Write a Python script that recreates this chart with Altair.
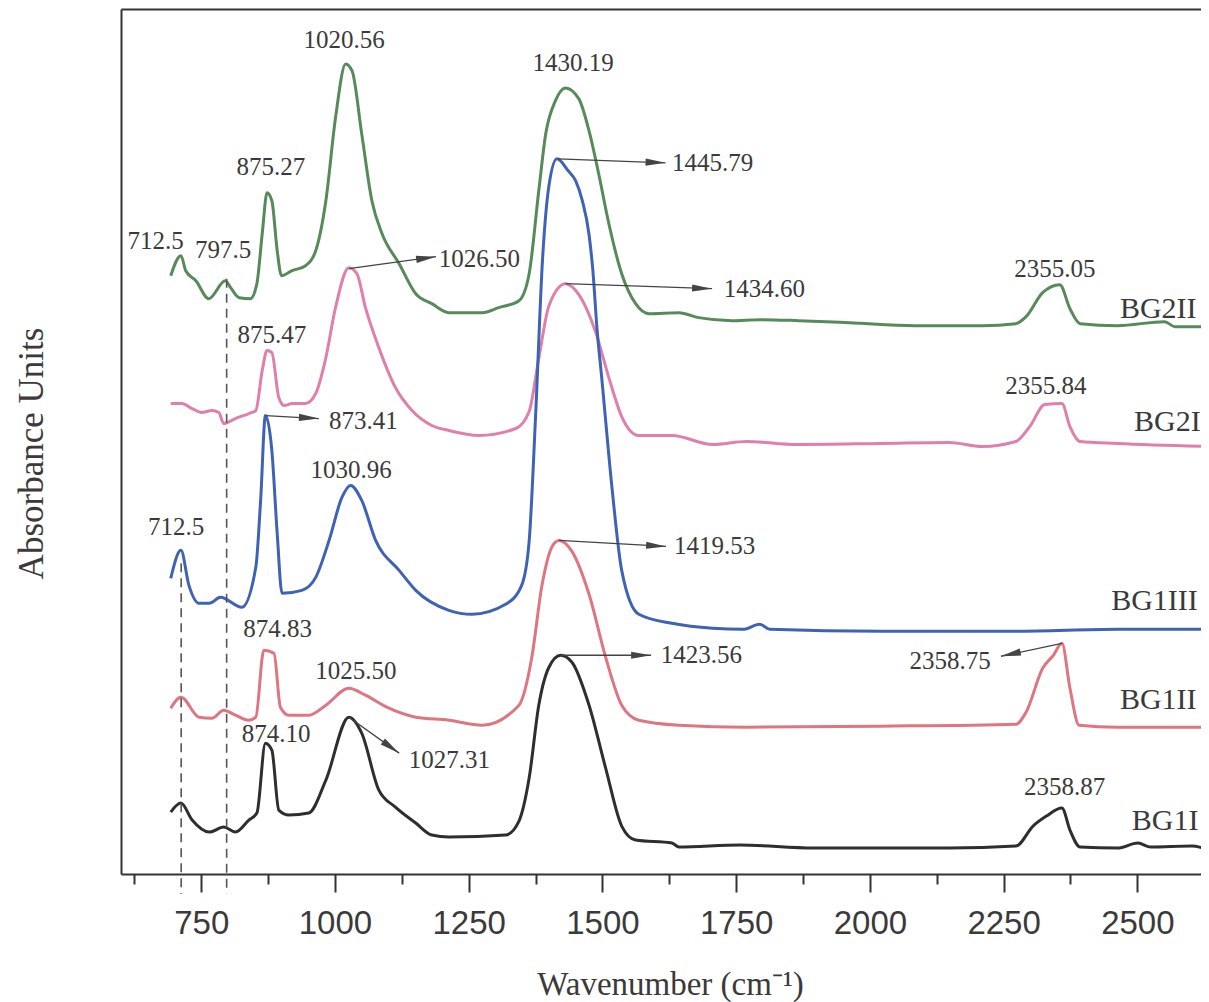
import math
import altair as alt
import pandas as pd

# ---------------- data ----------------
series_names = ["BG2II", "BG2I", "BG1III", "BG1II", "BG1I"]
series_colors = ["#578a5a", "#de7fae", "#3f63b4", "#de7580", "#2e2e2e"]

bg2ii_wn = [693, 712, 721, 740, 764, 795, 805, 821, 842, 854, 864, 873, 882, 892, 900, 920, 945, 964, 983,
            1001, 1020, 1032, 1050, 1069, 1088, 1120, 1151, 1181, 1213, 1275, 1306, 1344, 1363, 1381, 1394,
            1412, 1431, 1456, 1475, 1493, 1512, 1536, 1562, 1587, 1643, 1680, 1742, 1794, 1867, 1961, 2084,
            2210, 2273, 2292, 2323, 2355, 2374, 2393, 2463, 2551, 2570, 2630]
bg2ii_ab = [59.9, 61.9, 60.4, 59.4, 57.6, 59.4, 58.7, 57.7, 57.6, 59.1, 64.1, 68.2, 67.4, 62.4, 59.9, 60.4,
            60.9, 62.4, 67.4, 75.7, 81.1, 80.4, 74.1, 67.4, 64.1, 61.1, 58.1, 57.1, 56.2, 56.2, 56.7, 57.4,
            60.1, 68.4, 74.1, 77.4, 78.7, 77.6, 74.4, 70.1, 65.1, 60.1, 57.1, 56.1, 56.2, 55.7, 55.4, 55.5,
            55.4, 55.2, 54.9, 54.9, 55.1, 55.8, 58.2, 59.0, 56.6, 55.1, 54.9, 55.3, 54.8, 54.8]

bg2i_wn = [693, 714, 733, 751, 770, 783, 792, 814, 839, 852, 864, 873, 882, 895, 905, 920, 945, 964, 983,
           1001, 1026, 1041, 1057, 1082, 1113, 1144, 1181, 1213, 1269, 1338, 1363, 1381, 1400, 1431, 1456,
           1487, 1512, 1536, 1568, 1630, 1706, 1769, 1863, 2020, 2148, 2210, 2273, 2299, 2327, 2359, 2374,
           2393, 2463, 2630]
bg2i_ab = [47.1, 47.1, 46.6, 46.2, 46.4, 46.2, 45.1, 45.6, 46.1, 46.4, 50.4, 52.4, 52.2, 47.7, 46.9, 47.1,
           47.1, 48.1, 51.7, 56.7, 60.7, 60.1, 56.7, 52.7, 48.7, 46.4, 44.9, 44.4, 43.9, 44.6, 46.3, 51.6,
           56.9, 59.1, 58.0, 54.3, 49.7, 45.8, 43.9, 43.9, 43.0, 43.3, 43.0, 43.1, 43.2, 42.8, 43.3, 44.8,
           47.0, 47.1, 44.8, 43.3, 43.1, 42.8]

bg1iii_wn = [693, 712, 727, 746, 765, 786, 826, 852, 861, 870, 882, 892, 901, 938, 964, 989, 1013, 1029,
             1050, 1076, 1120, 1151, 1213, 1256, 1319, 1349, 1363, 1375, 1388, 1400, 1415, 1436, 1450, 1462,
             1475, 1482, 1490, 1499, 1518, 1536, 1568, 1630, 1706, 1763, 1794, 1813, 2020, 2273, 2463, 2630]
bg1iii_ab = [29.6, 32.4, 28.9, 27.1, 27.1, 27.7, 26.7, 30.7, 37.4, 45.9, 42.4, 34.1, 28.1, 28.4, 29.7, 33.4,
             37.7, 38.9, 37.4, 33.4, 30.4, 28.4, 26.4, 26.0, 27.0, 28.9, 33.3, 45.8, 61.5, 68.9, 71.6, 70.4,
             69.4, 67.5, 64.0, 60.5, 54.5, 49.5, 38.6, 30.4, 26.0, 25.1, 24.6, 24.5, 25.0, 24.5, 24.3, 24.3,
             24.5, 24.5]

bg1ii_wn = [693, 712, 746, 770, 792, 814, 839, 852, 867, 886, 898, 914, 951, 983, 1026, 1057, 1101, 1151,
            1213, 1275, 1344, 1368, 1387, 1406, 1419, 1443, 1475, 1506, 1536, 1568, 1643, 1769, 2020, 2273,
            2292, 2323, 2343, 2359, 2374, 2391, 2463, 2630]
bg1ii_ab = [16.6, 17.7, 15.7, 15.6, 16.4, 15.9, 15.4, 15.7, 22.4, 22.1, 16.7, 15.9, 15.9, 16.9, 18.6, 17.9,
            16.6, 15.7, 15.4, 14.9, 16.9, 21.7, 28.9, 32.8, 33.4, 32.3, 28.0, 21.7, 16.9, 15.4, 14.9, 14.7,
            14.8, 15.0, 16.2, 20.6, 21.9, 23.1, 18.6, 14.9, 14.7, 14.7]

bg1i_wn = [693, 712, 733, 765, 792, 814, 839, 854, 870, 882, 895, 914, 951, 983, 1026, 1050, 1082, 1113,
           1151, 1181, 1213, 1319, 1344, 1363, 1381, 1400, 1422, 1443, 1475, 1506, 1536, 1562, 1630, 1643,
           1757, 1895, 2148, 2273, 2305, 2330, 2359, 2374, 2393, 2463, 2501, 2525, 2602, 2630]
bg1i_ab = [6.2, 7.1, 5.4, 4.2, 4.7, 4.2, 5.4, 6.1, 13.1, 12.4, 6.4, 5.9, 6.1, 9.4, 15.7, 14.1, 8.4, 6.7,
           5.1, 3.9, 3.7, 3.9, 5.3, 9.6, 16.9, 20.7, 21.9, 21.2, 16.9, 10.6, 4.8, 3.4, 3.1, 2.7, 2.9, 2.6,
           2.6, 2.8, 4.8, 5.8, 6.6, 4.4, 2.7, 2.6, 3.1, 2.7, 2.8, 2.5]

# dashed reference lines
dash_wn = [712.5, 797.5]
dash_top = [31.1, 59.6]
dash_bottom = [-2.0, -2.0]

# arrows (from peak to label)
arrow_from_wn = [1026, 1417, 1431, 870.5, 1419, 1422, 1026, 2359]
arrow_from_ab = [60.6, 71.6, 59.1, 45.9, 33.4, 21.9, 15.7, 23.1]
arrow_to_wn = [1189, 1618, 1705, 970, 1619, 1591, 1120, 2245]
arrow_to_ab = [61.8, 71.2, 58.6, 45.6, 32.8, 21.9, 12.1, 21.8]

# peak labels
center_text = ["712.5", "797.5", "875.27", "1020.56", "1430.19", "2355.05", "875.47", "2355.84",
               "712.5", "1030.96", "874.83", "1025.50", "874.10", "2358.87"]
center_wn = [664.5, 791, 880, 1017, 1445, 2346, 882, 2329, 703, 1030, 893, 1039, 890, 2364]
center_ab = [63.4, 62.5, 70.8, 83.5, 81.2, 60.6, 54.0, 48.9, 34.7, 40.4, 24.5, 20.3, 14.0, 8.7]

left_text = ["1026.50", "1434.60", "1445.79", "873.41", "1419.53", "1423.56", "1027.31"]
left_wn = [1194, 1727, 1630, 989, 1634, 1609, 1138]
left_ab = [61.6, 58.6, 71.2, 45.4, 32.8, 21.9, 11.4]

right_text = ["2358.75"]
right_wn = [2226]
right_ab = [21.3]

name_wn = [2539, 2556, 2532, 2539, 2552]
name_ab = [56.6, 45.3, 27.3, 17.4, 5.3]

major_ticks = [750, 1000, 1250, 1500, 1750, 2000, 2250, 2500]
minor_ticks = [625, 875, 1125, 1375, 1625, 1875, 2125, 2375]

# ---------------- build tables ----------------
X_MIN, X_MAX = 600, 2619
Y_MIN, Y_MAX = 0, 86.6
W, H = 1080, 865

rows = []
for name, wns, abs_ in zip(series_names,
                           [bg2ii_wn, bg2i_wn, bg1iii_wn, bg1ii_wn, bg1i_wn],
                           [bg2ii_ab, bg2i_ab, bg1iii_ab, bg1ii_ab, bg1i_ab]):
    for i, (w, a) in enumerate(zip(wns, abs_)):
        rows.append({"series": name, "wn": w, "ab": a, "i": i})
spec = pd.DataFrame(rows)

dash_df = pd.DataFrame({"wn": dash_wn, "top": dash_top, "bottom": dash_bottom})

sx = W / (X_MAX - X_MIN)
sy = H / (Y_MAX - Y_MIN)
angles = []
for x1, y1, x2, y2 in zip(arrow_from_wn, arrow_from_ab, arrow_to_wn, arrow_to_ab):
    dx = (x2 - x1) * sx
    dy = -(y2 - y1) * sy
    angles.append(math.degrees(math.atan2(dy, dx)) % 360)
arrow_df = pd.DataFrame({"x1": arrow_from_wn, "y1": arrow_from_ab,
                         "x2": arrow_to_wn, "y2": arrow_to_ab, "angle": angles})

center_df = pd.DataFrame({"t": center_text, "wn": center_wn, "ab": center_ab})
left_df = pd.DataFrame({"t": left_text, "wn": left_wn, "ab": left_ab})
right_df = pd.DataFrame({"t": right_text, "wn": right_wn, "ab": right_ab})
name_df = pd.DataFrame({"t": series_names, "wn": name_wn, "ab": name_ab})

xscale = alt.Scale(domain=[X_MIN, X_MAX], nice=False, zero=False)
yscale = alt.Scale(domain=[Y_MIN, Y_MAX], nice=False, zero=False)

FRAME = "#333333"
TEXT = "#3a3a3a"
SERIF = "Liberation Serif"

major_axis = alt.Axis(orient="bottom", values=major_ticks, format="d", tickSize=18, tickWidth=2,
                      tickColor=FRAME, domain=True, domainColor=FRAME, domainWidth=2, grid=False,
                      labelFont="Liberation Sans", labelFontSize=33, labelColor=TEXT, labelPadding=15,
                      labelFlush=False, labelOverlap=False,
                      title="Wavenumber (cm\u207b\u00b9)", titleFont=SERIF, titleFontSize=33,
                      titleFontWeight="normal", titleColor=TEXT, titlePadding=28, titleX=549)
minor_axis = alt.Axis(orient="bottom", values=minor_ticks, tickSize=10, tickWidth=2, tickColor=FRAME,
                      labels=False, domain=False, grid=False, title=None)
top_axis = alt.Axis(orient="top", ticks=False, labels=False, domain=True, domainColor=FRAME,
                    domainWidth=2, grid=False, title=None)


def y_axis():
    return alt.Axis(orient="left", ticks=False, labels=False, domain=True, domainColor=FRAME,
                    domainWidth=2, grid=False, title="Absorbance Units", titleFont=SERIF,
                    titleFontSize=35, titleFontWeight="normal", titleColor=TEXT, titlePadding=72,
                    titleY=444)


lines = alt.Chart(spec).mark_line(strokeWidth=3, interpolate="monotone", clip=True).encode(
    x=alt.X("wn:Q", scale=xscale, axis=major_axis),
    y=alt.Y("ab:Q", scale=yscale, axis=y_axis()),
    color=alt.Color("series:N", scale=alt.Scale(domain=series_names, range=series_colors), legend=None),
    order="i:Q",
)

dashes = alt.Chart(dash_df).mark_rule(strokeDash=[9, 6], strokeWidth=1.6, color="#555555", clip=False).encode(
    x=alt.X("wn:Q", scale=xscale, axis=minor_axis),
    y=alt.Y("top:Q", scale=yscale, axis=y_axis()),
    y2="bottom:Q",
)

arrow_lines = alt.Chart(arrow_df).mark_rule(strokeWidth=1.3, color="#444444").encode(
    x=alt.X("x1:Q", scale=xscale, axis=None),
    y=alt.Y("y1:Q", scale=yscale, axis=y_axis()),
    x2="x2:Q",
    y2="y2:Q",
)

ARROW = "M0,0L-1,-0.18L-1,0.18Z"
arrow_heads = alt.Chart(arrow_df).mark_point(shape=ARROW, filled=True, size=1600, color="#444444",
                                             opacity=1, strokeWidth=0).encode(
    x=alt.X("x2:Q", scale=xscale, axis=None),
    y=alt.Y("y2:Q", scale=yscale, axis=y_axis()),
    angle=alt.Angle("angle:Q", scale=None),
)


def text_layer(df, align, size, axis=None):
    return alt.Chart(df).mark_text(font=SERIF, fontSize=size, color=TEXT, align=align,
                                   baseline="middle").encode(
        x=alt.X("wn:Q", scale=xscale, axis=axis),
        y=alt.Y("ab:Q", scale=yscale, axis=y_axis()),
        text="t:N",
    )


t_center = text_layer(center_df, "center", 25, top_axis)
t_left = text_layer(left_df, "left", 25)
t_right = text_layer(right_df, "right", 25)
t_names = text_layer(name_df, "center", 30)

chart = alt.layer(lines, dashes, arrow_lines, arrow_heads, t_center, t_left, t_right, t_names).properties(
    width=W, height=H,
    autosize=alt.AutoSizeParams(type="none"),
    padding={"left": 113, "top": 1, "right": 0, "bottom": 140},
).resolve_axis(x="independent").configure_view(strokeWidth=0)

chart.save("out.html", embed_options={"renderer": "svg", "actions": False})
